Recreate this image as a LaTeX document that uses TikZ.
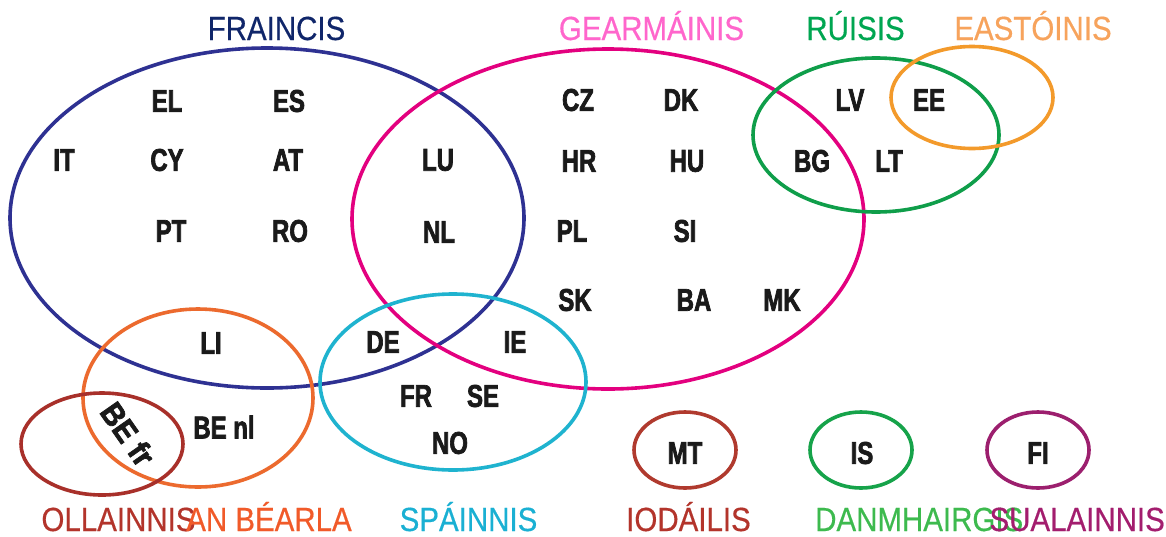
\documentclass[tikz,border=0pt]{standalone}
\usepackage{fontspec}
\setmainfont{Liberation Sans}
\newfontfamily\codefont{Liberation Sans}[FakeStretch=0.76, FakeBold=2.2]
\newfontfamily\codefontwide{Liberation Sans}[FakeStretch=0.92, FakeBold=2.2]
\newfontfamily\labelfont{Liberation Sans}[FakeStretch=0.88, FakeBold=0.4]
\definecolor{cblue}{HTML}{2E3192}
\definecolor{lblue}{HTML}{10266A}
\definecolor{cmag}{HTML}{E3007F}
\definecolor{lmag}{HTML}{FF66CC}
\definecolor{cgreen}{HTML}{0F9E4A}
\definecolor{lgreen}{HTML}{00A651}
\definecolor{corange}{HTML}{F39A2B}
\definecolor{lorange}{HTML}{F7A35C}
\definecolor{cengl}{HTML}{EC6A2E}
\definecolor{lengl}{HTML}{F15A29}
\definecolor{cdutch}{HTML}{A8302A}
\definecolor{ldutch}{HTML}{B3342B}
\definecolor{ccyan}{HTML}{1FB3CF}
\definecolor{lcyan}{HTML}{1AB0D3}
\definecolor{cmt}{HTML}{B03A2E}
\definecolor{cis}{HTML}{16A34A}
\definecolor{lis}{HTML}{3DBA4E}
\definecolor{cfi}{HTML}{9C1F6E}
\definecolor{lfi}{HTML}{A31D6E}
\definecolor{codeink}{HTML}{1A1A1A}
\tikzset{
  ring/.style={line width=3.6pt},
  code/.style={font=\codefont\bfseries\fontsize{31.5}{31.5}\selectfont, text=codeink, inner sep=0pt},
  widecode/.style={font=\codefontwide\bfseries\fontsize{31.5}{31.5}\selectfont, text=codeink, inner sep=0pt},
  lang/.style={font=\labelfont\fontsize{33.5}{33.5}\selectfont, inner sep=0pt, anchor=base}
}
\begin{document}
\begin{tikzpicture}[x=1pt,y=-1pt]
\useasboundingbox[fill=white] (0,0) rectangle (1166,536);
% ellipses
\draw[ring, cblue] (267,218) ellipse [x radius=257, y radius=170];
\draw[ring, cmag] (608,219) ellipse [x radius=256, y radius=170];
\draw[ring, cgreen] (876,135) ellipse [x radius=123, y radius=77];
\draw[ring, corange] (972,97.5) ellipse [x radius=81, y radius=51];
\draw[ring, ccyan] (453,382) ellipse [x radius=133, y radius=88];
\draw[ring, cengl] (198,398) ellipse [x radius=115, y radius=89];
\draw[ring, cdutch] (102,444) ellipse [x radius=81, y radius=51];
\draw[ring, cmt] (685,450) ellipse [x radius=51, y radius=38];
\draw[ring, cis] (861,450) ellipse [x radius=51, y radius=38];
\draw[ring, cfi] (1038,450) ellipse [x radius=51, y radius=38];
% country codes
\node[code] (el) at (167,101) {EL};
\node[code] (es) at (289,101) {ES};
\node[code] (it) at (64,160) {IT};
\node[code] (cy) at (167,160) {CY};
\node[code] (at) at (288,160) {AT};
\node[code] (lu) at (438,160) {LU};
\node[code] (pt) at (171,231) {PT};
\node[code] (ro) at (290,231) {RO};
\node[code] (nl) at (439,232) {NL};
\node[code] (cz) at (578,100) {CZ};
\node[code] (dk) at (681,100) {DK};
\node[code] (hr) at (579,161) {HR};
\node[code] (hu) at (687,161) {HU};
\node[code] (pl) at (572,231) {PL};
\node[code] (si) at (685,231) {SI};
\node[code] (sk) at (575,300) {SK};
\node[code] (ba) at (694,300) {BA};
\node[code] (mk) at (782,300) {MK};
\node[code] (lv) at (850,100) {LV};
\node[code] (ee) at (929,100) {EE};
\node[code] (bg) at (812,161) {BG};
\node[code] (lt) at (889,161) {LT};
\node[code] (li) at (211,343) {LI};
\node[code] (de) at (383,342) {DE};
\node[code] (ie) at (515,342) {IE};
\node[code] (fr) at (416,396) {FR};
\node[code] (se) at (483,396) {SE};
\node[code] (no) at (450,443) {NO};
\node[code] (benl) at (224,427) {BE nl};
\node[widecode, rotate=-55] (befr) at (128,434) {BE fr};
\node[code] (mt) at (685,453) {MT};
\node[code] (is) at (862,453) {IS};
\node[code] (fi) at (1038,453) {FI};
% language labels
\node[lang, text=lblue] (fraincis) at (276.5,40) {FRAINCIS};
\node[lang, text=lmag] (gearm) at (651.5,40) {GEARMÁINIS};
\node[lang, text=lgreen] (ruisis) at (855.5,40) {RÚISIS};
\node[lang, text=lorange] (eastoinis) at (1033,40) {EASTÓINIS};
\node[lang, text=ldutch] (ollainnis) at (118.5,531) {OLLAINNIS};
\node[lang, text=lengl] (bearla) at (269,531) {AN BÉARLA};
\node[lang, text=lcyan] (spainnis) at (468.5,531) {SPÁINNIS};
\node[lang, text=ldutch] (iodailis) at (688.5,531) {IODÁILIS};
\node[lang, text=lis, anchor=base west] (danm) at (815,531) {DANMHAIRGIS};
\node[lang, text=lfi, anchor=base east] (sual) at (1165,531) {SUALAINNIS};
\end{tikzpicture}
\end{document}
